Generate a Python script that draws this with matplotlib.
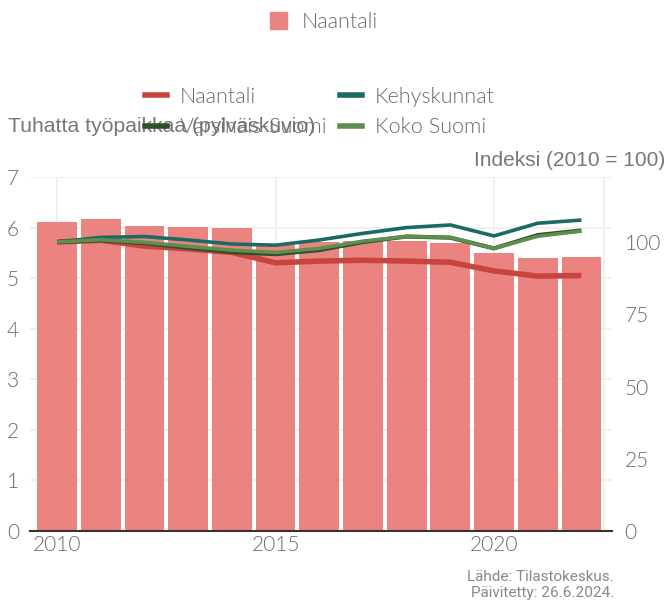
import numpy as np
import matplotlib
matplotlib.use('Agg')
import matplotlib.pyplot as plt
from matplotlib.lines import Line2D
from matplotlib.patches import Patch

years = np.arange(2010, 2023)
jobs_naantali = [6.12, 6.16, 6.04, 6.02, 6.00, 5.66, 5.71, 5.74, 5.73, 5.70, 5.50, 5.40, 5.42]

idx_naantali = [100, 100.6, 98.6, 97.6, 96.4, 92.8, 93.4, 93.7, 93.4, 93.0, 90.0, 88.2, 88.4]
idx_kehys = [100, 101.6, 101.9, 100.7, 99.3, 98.9, 100.7, 103.0, 105.0, 105.9, 102.1, 106.5, 107.6]
idx_vs = [100, 100.6, 99.6, 98.0, 96.5, 95.8, 97.2, 100.0, 101.9, 101.5, 97.8, 102.4, 104.0]
idx_suomi = [100, 100.8, 99.9, 98.5, 97.2, 96.4, 97.8, 100.3, 101.9, 101.6, 97.8, 102.0, 103.8]

left_ticks = [0, 1, 2, 3, 4, 5, 6, 7]
right_ticks = [0, 25, 50, 75, 100]
x_ticks = [2010, 2015, 2020]

bar_color = '#eb8480'
c_naantali = '#c8453f'
c_kehys = '#1a6b63'
c_vs = '#2e4f2a'
c_suomi = '#5e8f4f'
txt = '#777777'
light_txt = '#6a6a6a'
tick_font = 'Lato'
light_w = 300

fig = plt.figure(figsize=(6.68, 6.01), dpi=100)
ax = fig.add_axes([30 / 668, 1 - 531 / 601, (612 - 30) / 668, (531 - 177) / 601])
ax2 = ax.twinx()

ax.bar(years, jobs_naantali, width=0.91, color=bar_color, zorder=2)
ax.set_xlim(2009.38, 2022.7)
ax.set_ylim(0, 7)
ax2.set_ylim(0, 7 * 17.5)

ax2.plot(years, idx_naantali, color=c_naantali, lw=4, solid_capstyle='butt', zorder=3)
ax2.plot(years, idx_kehys, color=c_kehys, lw=2.6, solid_capstyle='butt', zorder=4)
ax2.plot(years, idx_vs, color=c_vs, lw=3, solid_capstyle='butt', zorder=5)
ax2.plot(years, idx_suomi, color=c_suomi, lw=2.6, solid_capstyle='butt', zorder=6)

ax.set_yticks(left_ticks)
ax.set_xticks(x_ticks)
ax2.set_yticks(right_ticks)
ax.grid(True, color='#eeeeee', lw=1.2, zorder=0)
ax.axvline(2022.52, color='#eeeeee', lw=1.2, zorder=0)
ax.set_axisbelow(True)

for a in (ax, ax2):
    for s in a.spines.values():
        s.set_visible(False)
    a.tick_params(length=0, colors=light_txt, labelsize=15)
    for lab in a.get_xticklabels() + a.get_yticklabels():
        lab.set_fontfamily(tick_font)
        lab.set_fontweight(light_w)
ax.spines['bottom'].set_visible(True)
ax.spines['bottom'].set_color('#333333')
ax.spines['bottom'].set_linewidth(1.5)
ax.tick_params(axis='y', pad=8)
ax.tick_params(axis='x', pad=3)
ax2.tick_params(axis='y', pad=9)

leg_prop = {'family': tick_font, 'size': 15.5, 'weight': light_w}

# top legend for bars
fig.legend(handles=[Patch(color=bar_color, label='Naantali')],
           loc='center', bbox_to_anchor=(324 / 668, 1 - 22 / 601), frameon=False,
           prop=leg_prop, labelcolor=light_txt,
           handlelength=0.8, handleheight=0.8, handletextpad=0.7)

# legend for lines
handles = [Line2D([], [], color=c_naantali, lw=4, label='Naantali'),
           Line2D([], [], color=c_vs, lw=4, label='Varsinais-Suomi'),
           Line2D([], [], color=c_kehys, lw=4, label='Kehyskunnat'),
           Line2D([], [], color=c_suomi, lw=4, label='Koko Suomi')]
fig.legend(handles=handles, ncol=2, loc='center',
           bbox_to_anchor=(320 / 668, 1 - 112 / 601), frameon=False,
           prop=leg_prop, labelcolor=light_txt,
           handlelength=1.0, handletextpad=0.6, columnspacing=0.6, labelspacing=0.5)

fig.text(8 / 668, 1 - 127 / 601, 'Tuhatta työpaikkaa (pylväskuvio)', color=txt,
         fontsize=15.2, family='Liberation Sans', va='center', ha='left')
fig.text(665 / 668, 1 - 160 / 601, 'Indeksi (2010 = 100)', color=txt,
         fontsize=15, family='Liberation Sans', va='center', ha='right')

fig.text(614 / 668, 1 - 577 / 601, 'Lähde: Tilastokeskus.', color='#888888',
         fontsize=11, family='Roboto', ha='right', va='center')
fig.text(614 / 668, 1 - 593 / 601, 'Päivitetty: 26.6.2024.', color='#888888',
         fontsize=11, family='Roboto', ha='right', va='center')

fig.savefig('out.png', dpi=100)
